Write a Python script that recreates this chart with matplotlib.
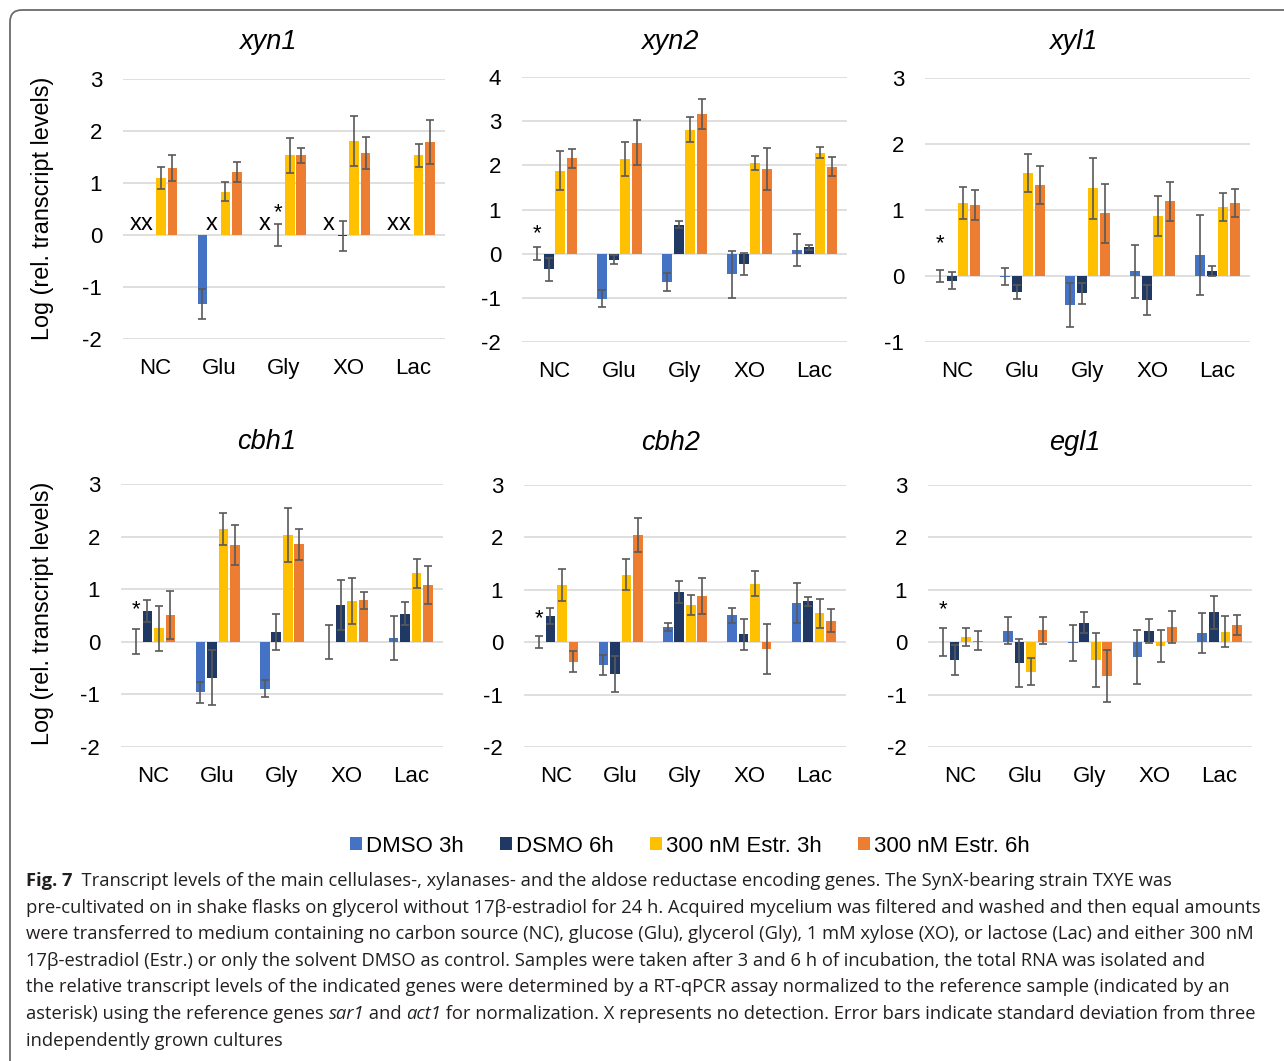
import numpy as np
import matplotlib
matplotlib.use('Agg')
import matplotlib.pyplot as plt
from matplotlib.patches import Patch, FancyBboxPatch
from matplotlib.transforms import IdentityTransform

nan = np.nan
categories = ['NC', 'Glu', 'Gly', 'XO', 'Lac']
series = ['DMSO 3h', 'DSMO 6h', '300 nM Estr. 3h', '300 nM Estr. 6h']
colors = ['#4472C4', '#203864', '#FFC000', '#ED7D31']

# rows: DMSO 3h, DSMO 6h, Estr 3h, Estr 6h ; nan = not detected
xyn1_mean = [[nan, -1.33, nan, nan, nan],
             [nan, nan, 0.0, -0.02, nan],
             [1.10, 0.83, 1.53, 1.81, 1.53],
             [1.29, 1.21, 1.53, 1.58, 1.79]]
xyn1_sd = [[nan, 0.29, nan, nan, nan],
           [nan, nan, 0.21, 0.29, nan],
           [0.21, 0.18, 0.34, 0.48, 0.22],
           [0.25, 0.20, 0.15, 0.31, 0.42]]

xyn2_mean = [[0.0, -1.02, -0.64, -0.47, 0.09],
             [-0.35, -0.14, 0.66, -0.23, 0.14],
             [1.88, 2.14, 2.81, 2.06, 2.29],
             [2.16, 2.51, 3.16, 1.92, 1.97]]
xyn2_sd = [[0.15, 0.19, 0.21, 0.53, 0.36],
           [0.26, 0.10, 0.08, 0.25, 0.06],
           [0.44, 0.38, 0.29, 0.16, 0.13],
           [0.21, 0.51, 0.34, 0.48, 0.22]]

xyl1_mean = [[0.0, -0.01, -0.44, 0.07, 0.32],
             [-0.07, -0.24, -0.26, -0.36, 0.08],
             [1.11, 1.56, 1.33, 0.91, 1.05],
             [1.08, 1.38, 0.95, 1.13, 1.11]]
xyl1_sd = [[0.085, 0.13, 0.34, 0.40, 0.61],
           [0.13, 0.11, 0.16, 0.23, 0.075],
           [0.24, 0.29, 0.46, 0.30, 0.21],
           [0.23, 0.29, 0.45, 0.30, 0.21]]

cbh1_mean = [[0.0, -0.96, -0.89, -0.01, 0.08],
             [0.58, -0.68, 0.18, 0.70, 0.53],
             [0.26, 2.14, 2.03, 0.78, 1.30],
             [0.51, 1.84, 1.85, 0.79, 1.08]]
cbh1_sd = [[0.235, 0.20, 0.155, 0.32, 0.42],
           [0.21, 0.52, 0.34, 0.48, 0.22],
           [0.43, 0.30, 0.51, 0.44, 0.28],
           [0.45, 0.38, 0.29, 0.16, 0.37]]

cbh2_mean = [[0.0, -0.44, 0.29, 0.51, 0.75],
             [0.50, -0.61, 0.96, 0.15, 0.78],
             [1.09, 1.29, 0.71, 1.12, 0.55],
             [-0.37, 2.05, 0.88, -0.13, 0.41]]
cbh2_sd = [[0.12, 0.19, 0.075, 0.14, 0.38],
           [0.16, 0.34, 0.21, 0.30, 0.09],
           [0.30, 0.30, 0.20, 0.24, 0.28],
           [0.20, 0.32, 0.34, 0.48, 0.22]]

egl1_mean = [[0.0, 0.22, -0.02, -0.28, 0.18],
             [-0.34, -0.39, 0.37, 0.21, 0.57],
             [0.10, -0.56, -0.34, -0.07, 0.20],
             [0.03, 0.23, -0.65, 0.29, 0.33]]
egl1_sd = [[0.265, 0.26, 0.34, 0.51, 0.38],
           [0.29, 0.46, 0.20, 0.23, 0.31],
           [0.18, 0.26, 0.51, 0.30, 0.30],
           [0.18, 0.26, 0.50, 0.30, 0.19]]

genes = ['xyn1', 'xyn2', 'xyl1', 'cbh1', 'cbh2', 'egl1']
means = [xyn1_mean, xyn2_mean, xyl1_mean, cbh1_mean, cbh2_mean, egl1_mean]
sds = [xyn1_sd, xyn2_sd, xyl1_sd, cbh1_sd, cbh2_sd, egl1_sd]
ylims = [(-2, 3), (-2, 4), (-1, 3), (-2, 3), (-2, 3), (-2, 3)]
reference = [(1, 2), (0, 0), (0, 0), (0, 0), (0, 0), (0, 0)]  # (series, category)
star_offset_pt = [0, 1, 11, 6, 4, 5]

W, H = 1284, 1061
fig = plt.figure(figsize=(W / 100, H / 100), dpi=100)
plt.rcParams['font.family'] = ['Liberation Sans', 'DejaVu Sans']

# layout in pixels: left, top, right, bottom
boxes = [(123, 79, 445, 339), (522, 77, 847, 342), (925, 78, 1250, 342),
         (121, 484, 443, 747), (524, 485, 846, 747), (928, 485, 1252, 747)]
title_pos = [(268, 42), (670, 42), (1073, 42), (267, 442), (671, 443), (1075, 443)]

def frac(x, y):
    return x / W, 1 - y / H

bw = 0.15
step = 0.178
xc = np.arange(len(categories))

for k, g in enumerate(genes):
    l, t, r, b = boxes[k]
    ax = fig.add_axes([l / W, 1 - b / H, (r - l) / W, (b - t) / H])
    m = np.array(means[k], dtype=float)
    s = np.array(sds[k], dtype=float)
    for i in range(4):
        pos = xc + (i - 1.5) * step
        ax.bar(pos, np.nan_to_num(m[i]), width=bw, color=colors[i], zorder=2,
               edgecolor='none')
        ok = ~np.isnan(m[i])
        ax.errorbar(pos[ok], m[i][ok], yerr=s[i][ok], fmt='none', ecolor='#595959',
                    elinewidth=1.2, capsize=3.2, capthick=1.2, zorder=3)
        for j in np.where(~ok)[0]:
            ax.text(pos[j] - 0.04, 0.0, 'x', ha='center', va='bottom', fontsize=17,
                    color='black', zorder=4)
    si, ci = reference[k]
    top = means[k][si][ci] + sds[k][si][ci]
    ax.annotate('*', xy=(xc[ci] + (si - 1.5) * step, top), xytext=(0, 1 + star_offset_pt[k]),
                textcoords='offset points', ha='center', va='bottom', fontsize=16, zorder=4)
    ax.set_xlim(-0.5, 4.5)
    y0, y1 = ylims[k]
    ax.set_ylim(y0, y1)
    ax.set_yticks(np.arange(y0, y1 + 1))
    ax.set_yticklabels([str(v) for v in range(y0, y1 + 1)])
    ax.set_xticks(xc)
    ax.set_xticklabels(categories)
    ax.tick_params(axis='y', length=0, pad=15, labelsize=16)
    ax.tick_params(axis='x', length=0, pad=14, labelsize=16)
    for sp in ax.spines.values():
        sp.set_visible(False)
    ax.grid(axis='y', color='#D9D9D9', linewidth=1.2, zorder=0)
    ax.set_axisbelow(True)
    tx, ty = title_pos[k]
    fig.text(*frac(tx, ty), g, ha='center', va='center', fontsize=19.5, style='italic')

for yc in (208, 613):
    fig.text(*frac(43, yc), 'Log (rel. transcript levels)', rotation=90,
             ha='center', va='center', fontsize=16.8)

handles = [Patch(facecolor=c, edgecolor='none') for c in colors]
fig.legend(handles, series, loc='center', bbox_to_anchor=frac(690, 846), ncol=4,
           frameon=False, fontsize=16, handlelength=0.55, handleheight=0.55,
           handletextpad=0.2, columnspacing=1.6, borderaxespad=0)

# frame (open at the bottom/right, beyond the image edge)
fig.add_artist(FancyBboxPatch((10, -20), 1300, H - 10 + 20, boxstyle='round,pad=0,rounding_size=12',
                              transform=IdentityTransform(), fill=False, edgecolor='#6b6b6b',
                              linewidth=1.3))

# caption
renderer = fig.canvas.get_renderer()
cap_family = ['Open Sans', 'DejaVu Sans']
lines = [
    [('Fig. 7', 'bold', 'normal'), ('  Transcript levels of the main cellulases-, xylanases- and the aldose reductase encoding genes. The SynX-bearing strain TXYE was', 'normal', 'normal')],
    [('pre-cultivated on in shake flasks on glycerol without 17β-estradiol for 24 h. Acquired mycelium was filtered and washed and then equal amounts', 'normal', 'normal')],
    [('were transferred to medium containing no carbon source (NC), glucose (Glu), glycerol (Gly), 1 mM xylose (XO), or lactose (Lac) and either 300 nM', 'normal', 'normal')],
    [('17β-estradiol (Estr.) or only the solvent DMSO as control. Samples were taken after 3 and 6 h of incubation, the total RNA was isolated and', 'normal', 'normal')],
    [('the relative transcript levels of the indicated genes were determined by a RT-qPCR assay normalized to the reference sample (indicated by an', 'normal', 'normal')],
    [('asterisk) using the reference genes ', 'normal', 'normal'), ('sar1', 'normal', 'italic'), (' and ', 'normal', 'normal'),
     ('act1', 'normal', 'italic'), (' for normalization. X represents no detection. Error bars indicate standard deviation from three', 'normal', 'normal')],
    [('independently grown cultures', 'normal', 'normal')],
]
probe = fig.text(0, 0, lines[2][0][0], fontsize=12, family=cap_family)
pw = probe.get_window_extent(renderer).width
probe.remove()
cap_fs = 12 * (1250 - 26) / pw
ys = [881, 908, 934, 961, 987, 1014, 1041]
for yy, parts in zip(ys, lines):
    x = 26
    for txt, w, st in parts:
        tt = fig.text(*frac(x, yy), txt, fontsize=cap_fs, family=cap_family, weight=w, style=st,
                      ha='left', va='center', color='#231f20')
        x += tt.get_window_extent(renderer).width

fig.savefig('out.png', dpi=100)
